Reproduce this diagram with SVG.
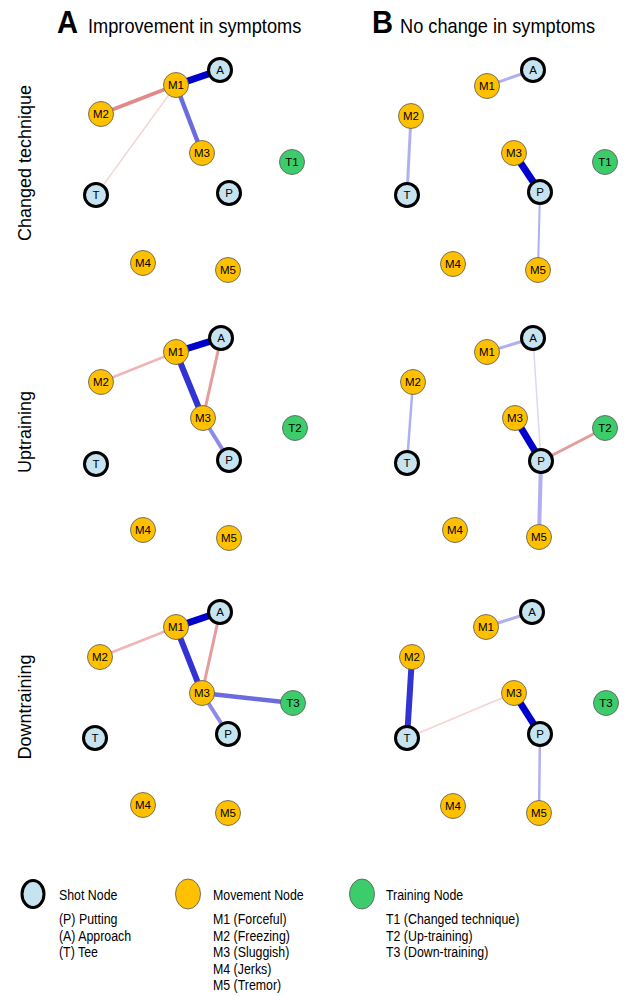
<svg xmlns="http://www.w3.org/2000/svg" width="634" height="996" viewBox="0 0 634 996">
<style>
text{font-family:"Liberation Sans",Arial,sans-serif;fill:#000}
.title{font-size:20px}
.big{font-size:31px;font-weight:bold}
.row{font-size:18px}
.lbl{font-size:11.5px;text-anchor:middle;dominant-baseline:central}
.leg{font-size:14.4px}
.shot{fill:#c6e3f0;stroke:#000;stroke-width:3}
.mov{fill:#ffc000;stroke:#555;stroke-width:0.8}
.trn{fill:#3dcc6b;stroke:#555;stroke-width:0.8}
line{stroke-linecap:butt}
.b1{stroke:#0000cc;stroke-width:7}
.b2{stroke:#3333d4;stroke-width:6}
.b3{stroke:#6b6be0;stroke-width:4.5}
.b4{stroke:#8c8ce8;stroke-width:4}
.b5{stroke:#b0b0f0;stroke-width:3}
.b6{stroke:#d8d8f8;stroke-width:1.5}
.r1{stroke:#e08a8a;stroke-width:4}
.r2{stroke:#e49c9c;stroke-width:3}
.r3{stroke:#eeb6b6;stroke-width:2.5}
.r4{stroke:#f6d2d2;stroke-width:1.3}
</style>
<rect width="634" height="996" fill="#fff"/>
<g id="titles">
<text class="big" transform="matrix(0.94,0,0,1,57,33)">A</text>
<text class="title" transform="matrix(0.91,0,0,1,88,33)">Improvement in symptoms</text>
<text class="big" transform="matrix(0.94,0,0,1,372,33)">B</text>
<text class="title" transform="matrix(0.91,0,0,1,400,33)">No change in symptoms</text>
<text class="row" transform="translate(31,163) rotate(-90)" text-anchor="middle">Changed technique</text>
<text class="row" transform="translate(31,432) rotate(-90)" text-anchor="middle">Uptraining</text>
<text class="row" transform="translate(31,707) rotate(-90)" text-anchor="middle">Downtraining</text>
</g>
<g id="connectors">
<!-- Row 1 A -->
<line class="r4" x1="176" y1="85" x2="96" y2="195"/>
<line class="r1" x1="176" y1="85" x2="101" y2="114"/>
<line class="b3" x1="176" y1="85" x2="202" y2="153"/>
<line class="b1" x1="176" y1="85" x2="220" y2="70"/>
<!-- Row 1 B -->
<line class="b5" x1="487" y1="86" x2="533" y2="70"/>
<line class="b5" x1="411" y1="116" x2="407" y2="195"/>
<line class="b1" x1="514" y1="153" x2="540" y2="192"/>
<line class="b5" x1="540" y1="192" x2="538" y2="270" style="stroke-width:2"/>
<!-- Row 2 A -->
<line class="r3" x1="176" y1="352" x2="101" y2="382"/>
<line class="r2" x1="221" y1="338" x2="203" y2="418"/>
<line class="b2" x1="176" y1="352" x2="203" y2="418"/>
<line class="b4" x1="203" y1="418" x2="229" y2="460"/>
<line class="b1" x1="176" y1="352" x2="221" y2="338"/>
<!-- Row 2 B -->
<line class="b5" x1="487" y1="352" x2="533" y2="338"/>
<line class="b6" x1="533" y1="338" x2="541" y2="461"/>
<line class="b5" x1="413" y1="382" x2="407" y2="463" style="stroke-width:2.5"/>
<line class="r2" x1="541" y1="461" x2="605" y2="428"/>
<line class="b5" x1="541" y1="461" x2="539" y2="537" style="stroke-width:4"/>
<line class="b1" x1="515" y1="418" x2="541" y2="461"/>
<!-- Row 3 A -->
<line class="r3" x1="176" y1="627" x2="100" y2="657"/>
<line class="r2" x1="220" y1="612" x2="202" y2="693"/>
<line class="b2" x1="176" y1="627" x2="202" y2="693"/>
<line class="b3" x1="202" y1="693" x2="293" y2="703"/>
<line class="b4" x1="202" y1="693" x2="228" y2="734"/>
<line class="b1" x1="176" y1="627" x2="220" y2="612"/>
<!-- Row 3 B -->
<line class="b5" x1="486" y1="627" x2="532" y2="612"/>
<line class="b2" x1="412" y1="657" x2="407" y2="738"/>
<line class="r4" x1="407" y1="738" x2="514" y2="693" style="stroke-width:1.6"/>
<line class="b1" x1="514" y1="693" x2="540" y2="734"/>
<line class="b5" x1="540" y1="734" x2="539" y2="813" style="stroke-width:2.5"/>
</g>
<!-- Row 1 A nodes -->
<g id="a1-A"><circle class="shot" cx="220" cy="70" r="11.5"/><text class="lbl" x="220" y="70">A</text></g>
<g id="a1-M1"><circle class="mov" cx="176" cy="85" r="12.5"/><text class="lbl" x="176" y="85">M1</text></g>
<g id="a1-M2"><circle class="mov" cx="101" cy="114" r="12.5"/><text class="lbl" x="101" y="114">M2</text></g>
<g id="a1-M3"><circle class="mov" cx="202" cy="153" r="12.5"/><text class="lbl" x="202" y="153">M3</text></g>
<g id="a1-T1"><circle class="trn" cx="292" cy="162" r="12.5"/><text class="lbl" x="292" y="162">T1</text></g>
<g id="a1-T"><circle class="shot" cx="96" cy="195" r="11.5"/><text class="lbl" x="96" y="195">T</text></g>
<g id="a1-P"><circle class="shot" cx="229" cy="193" r="11.5"/><text class="lbl" x="229" y="193">P</text></g>
<g id="a1-M4"><circle class="mov" cx="143" cy="263" r="12.5"/><text class="lbl" x="143" y="263">M4</text></g>
<g id="a1-M5"><circle class="mov" cx="228" cy="270" r="12.5"/><text class="lbl" x="228" y="270">M5</text></g>
<!-- Row 1 B nodes -->
<g id="b1-A"><circle class="shot" cx="533" cy="70" r="11.5"/><text class="lbl" x="533" y="70">A</text></g>
<g id="b1-M1"><circle class="mov" cx="487" cy="86" r="12.5"/><text class="lbl" x="487" y="86">M1</text></g>
<g id="b1-M2"><circle class="mov" cx="411" cy="116" r="12.5"/><text class="lbl" x="411" y="116">M2</text></g>
<g id="b1-M3"><circle class="mov" cx="514" cy="153" r="12.5"/><text class="lbl" x="514" y="153">M3</text></g>
<g id="b1-T1"><circle class="trn" cx="605" cy="162" r="12.5"/><text class="lbl" x="605" y="162">T1</text></g>
<g id="b1-T"><circle class="shot" cx="407" cy="195" r="11.5"/><text class="lbl" x="407" y="195">T</text></g>
<g id="b1-P"><circle class="shot" cx="540" cy="192" r="11.5"/><text class="lbl" x="540" y="192">P</text></g>
<g id="b1-M4"><circle class="mov" cx="453" cy="264" r="12.5"/><text class="lbl" x="453" y="264">M4</text></g>
<g id="b1-M5"><circle class="mov" cx="538" cy="270" r="12.5"/><text class="lbl" x="538" y="270">M5</text></g>
<!-- Row 2 A nodes -->
<g id="a2-A"><circle class="shot" cx="221" cy="338" r="11.5"/><text class="lbl" x="221" y="338">A</text></g>
<g id="a2-M1"><circle class="mov" cx="176" cy="352" r="12.5"/><text class="lbl" x="176" y="352">M1</text></g>
<g id="a2-M2"><circle class="mov" cx="101" cy="382" r="12.5"/><text class="lbl" x="101" y="382">M2</text></g>
<g id="a2-M3"><circle class="mov" cx="203" cy="418" r="12.5"/><text class="lbl" x="203" y="418">M3</text></g>
<g id="a2-T2"><circle class="trn" cx="295" cy="428" r="12.5"/><text class="lbl" x="295" y="428">T2</text></g>
<g id="a2-T"><circle class="shot" cx="96" cy="464" r="11.5"/><text class="lbl" x="96" y="464">T</text></g>
<g id="a2-P"><circle class="shot" cx="229" cy="460" r="11.5"/><text class="lbl" x="229" y="460">P</text></g>
<g id="a2-M4"><circle class="mov" cx="143" cy="530" r="12.5"/><text class="lbl" x="143" y="530">M4</text></g>
<g id="a2-M5"><circle class="mov" cx="229" cy="538" r="12.5"/><text class="lbl" x="229" y="538">M5</text></g>
<!-- Row 2 B nodes -->
<g id="b2-A"><circle class="shot" cx="533" cy="338" r="11.5"/><text class="lbl" x="533" y="338">A</text></g>
<g id="b2-M1"><circle class="mov" cx="487" cy="352" r="12.5"/><text class="lbl" x="487" y="352">M1</text></g>
<g id="b2-M2"><circle class="mov" cx="413" cy="382" r="12.5"/><text class="lbl" x="413" y="382">M2</text></g>
<g id="b2-M3"><circle class="mov" cx="515" cy="418" r="12.5"/><text class="lbl" x="515" y="418">M3</text></g>
<g id="b2-T2"><circle class="trn" cx="605" cy="428" r="12.5"/><text class="lbl" x="605" y="428">T2</text></g>
<g id="b2-T"><circle class="shot" cx="407" cy="463" r="11.5"/><text class="lbl" x="407" y="463">T</text></g>
<g id="b2-P"><circle class="shot" cx="541" cy="461" r="11.5"/><text class="lbl" x="541" y="461">P</text></g>
<g id="b2-M4"><circle class="mov" cx="455" cy="530" r="12.5"/><text class="lbl" x="455" y="530">M4</text></g>
<g id="b2-M5"><circle class="mov" cx="539" cy="537" r="12.5"/><text class="lbl" x="539" y="537">M5</text></g>
<!-- Row 3 A nodes -->
<g id="a3-A"><circle class="shot" cx="220" cy="612" r="11.5"/><text class="lbl" x="220" y="612">A</text></g>
<g id="a3-M1"><circle class="mov" cx="176" cy="627" r="12.5"/><text class="lbl" x="176" y="627">M1</text></g>
<g id="a3-M2"><circle class="mov" cx="100" cy="657" r="12.5"/><text class="lbl" x="100" y="657">M2</text></g>
<g id="a3-M3"><circle class="mov" cx="202" cy="693" r="12.5"/><text class="lbl" x="202" y="693">M3</text></g>
<g id="a3-T3"><circle class="trn" cx="293" cy="703" r="12.5"/><text class="lbl" x="293" y="703">T3</text></g>
<g id="a3-T"><circle class="shot" cx="95" cy="738" r="11.5"/><text class="lbl" x="95" y="738">T</text></g>
<g id="a3-P"><circle class="shot" cx="228" cy="734" r="11.5"/><text class="lbl" x="228" y="734">P</text></g>
<g id="a3-M4"><circle class="mov" cx="143" cy="805" r="12.5"/><text class="lbl" x="143" y="805">M4</text></g>
<g id="a3-M5"><circle class="mov" cx="228" cy="813" r="12.5"/><text class="lbl" x="228" y="813">M5</text></g>
<!-- Row 3 B nodes -->
<g id="b3-A"><circle class="shot" cx="532" cy="612" r="11.5"/><text class="lbl" x="532" y="612">A</text></g>
<g id="b3-M1"><circle class="mov" cx="486" cy="627" r="12.5"/><text class="lbl" x="486" y="627">M1</text></g>
<g id="b3-M2"><circle class="mov" cx="412" cy="657" r="12.5"/><text class="lbl" x="412" y="657">M2</text></g>
<g id="b3-M3"><circle class="mov" cx="514" cy="693" r="12.5"/><text class="lbl" x="514" y="693">M3</text></g>
<g id="b3-T3"><circle class="trn" cx="606" cy="703" r="12.5"/><text class="lbl" x="606" y="703">T3</text></g>
<g id="b3-T"><circle class="shot" cx="407" cy="738" r="11.5"/><text class="lbl" x="407" y="738">T</text></g>
<g id="b3-P"><circle class="shot" cx="540" cy="734" r="11.5"/><text class="lbl" x="540" y="734">P</text></g>
<g id="b3-M4"><circle class="mov" cx="453" cy="806" r="12.5"/><text class="lbl" x="453" y="806">M4</text></g>
<g id="b3-M5"><circle class="mov" cx="539" cy="813" r="12.5"/><text class="lbl" x="539" y="813">M5</text></g>
<!-- Legend -->
<g id="legend-shot">
<ellipse class="shot" cx="33" cy="894" rx="11" ry="13.5"/>
<text class="leg" transform="matrix(0.86,0,0,1,59,900)">Shot Node</text>
<text class="leg" transform="matrix(0.86,0,0,1,59,924)">(P) Putting</text>
<text class="leg" transform="matrix(0.86,0,0,1,59,940.5)">(A) Approach</text>
<text class="leg" transform="matrix(0.86,0,0,1,59,957)">(T) Tee</text>
</g>
<g id="legend-movement">
<ellipse class="mov" cx="188" cy="894" rx="12.5" ry="15"/>
<text class="leg" transform="matrix(0.86,0,0,1,213,900)">Movement Node</text>
<text class="leg" transform="matrix(0.86,0,0,1,213,924)">M1 (Forceful)</text>
<text class="leg" transform="matrix(0.86,0,0,1,213,940.5)">M2 (Freezing)</text>
<text class="leg" transform="matrix(0.86,0,0,1,213,957)">M3 (Sluggish)</text>
<text class="leg" transform="matrix(0.86,0,0,1,213,973.5)">M4 (Jerks)</text>
<text class="leg" transform="matrix(0.86,0,0,1,213,990)">M5 (Tremor)</text>
</g>
<g id="legend-training">
<ellipse class="trn" cx="362" cy="894" rx="12.5" ry="15"/>
<text class="leg" transform="matrix(0.86,0,0,1,386,900)">Training Node</text>
<text class="leg" transform="matrix(0.86,0,0,1,386,924)">T1 (Changed technique)</text>
<text class="leg" transform="matrix(0.86,0,0,1,386,940.5)">T2 (Up-training)</text>
<text class="leg" transform="matrix(0.86,0,0,1,386,957)">T3 (Down-training)</text>
</g>
</svg>
